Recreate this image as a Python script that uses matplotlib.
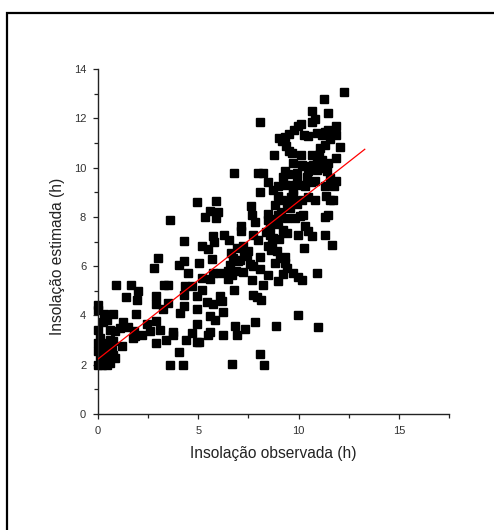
import matplotlib
matplotlib.use("Agg")
import matplotlib.pyplot as plt
from matplotlib.patches import Rectangle
from matplotlib.ticker import MultipleLocator

plt.rcParams['font.family'] = ['Liberation Sans', 'DejaVu Sans']

obs = [12.28, 11.28, 10.68, 11.48, 8.09, 10.81, 10.68, 11.89, 9.95, 10.12, 9.78, 11.48, 11.31,
       11.89, 9.50, 9.34, 10.27, 10.48, 10.90, 11.15, 11.56, 9.00, 9.15, 12.08, 11.08, 9.37,
       9.50, 8.79, 9.65, 10.10, 10.68, 11.89, 9.73, 10.15, 10.32, 10.90, 11.15, 11.45, 10.93,
       11.15, 10.48, 9.32, 9.48, 6.79, 7.99, 8.24, 9.90, 11.40, 11.56, 10.81, 11.89, 8.49,
       8.99, 9.32, 9.65, 9.90, 10.32, 8.74, 11.78, 11.31, 8.09, 9.73, 8.99, 9.15, 10.15, 10.48,
       10.81, 11.35, 11.56, 11.73, 8.82, 9.40, 9.57, 9.90, 4.92, 5.88, 5.58, 5.99, 5.32, 5.88,
       3.59, 7.61, 7.69, 7.82, 8.49, 8.49, 8.99, 9.40, 9.82, 10.07, 10.23, 11.31, 11.48, 8.95,
       9.24, 9.40, 7.11, 7.11, 6.28, 6.55, 7.75, 7.99, 8.57, 8.74, 9.98, 10.32, 10.48, 10.65,
       11.31, 5.75, 4.30, 5.78, 5.17, 5.50, 6.91, 7.24, 7.49, 8.49, 8.65, 8.90, 10.28, 11.69,
       6.61, 6.74, 7.41, 8.06, 5.66, 2.79, 2.99, 4.04, 4.30, 5.02, 6.58, 7.08, 7.75, 8.07,
       8.82, 9.07, 9.32, 9.32, 9.40, 4.50, 5.75, 6.08, 6.50, 6.66, 7.21, 8.49, 9.20, 9.73,
       9.98, 10.90, 10.15, 5.17, 5.58, 6.50, 7.69, 8.95, 8.24, 0.90, 1.63, 3.31, 3.50, 4.34,
       4.67, 2.01, 5.17, 6.79, 1.40, 1.96, 2.89, 2.89, 4.30, 4.92, 6.08, 6.20, 7.75, 7.94,
       8.15, 3.50, 5.42, 5.75, 4.30, 3.22, 4.92, 6.22, 4.09, 0.02, 0.02, 0.30, 0.76, 1.91,
       5.58, 5.83, 9.98, 0.43, 0.27, 1.26, 2.43, 2.89, 4.92, 6.83, 7.33, 7.82, 8.87, 10.98,
       0.02, 0.60, 0.85, 1.10, 1.81, 2.59, 3.09, 3.75, 3.75, 4.67, 5.58, 5.50, 6.21, 6.91,
       1.84, 2.18, 3.39, 4.39, 4.92, 5.05, 2.89, 1.18, 4.02, 8.07, 3.59, 4.22, 6.69, 8.29,
       0.02, 0.10, 0.02, 0.10, 0.02, 0.27, 0.43, 0.51, 0.35, 0.68, 0.76, 0.85, 0.60, 0.18,
       0.76, 0.60, 0.27, 0.43, 0.10, 1.75, 1.50, 8.60, 8.80, 9.10, 9.60, 9.20, 8.40, 9.70,
       10.40, 10.00, 10.70, 8.70, 9.00, 9.55, 10.60, 11.00, 11.30, 7.30, 7.00, 6.90, 7.60]
est = [13.07, 12.79, 12.30, 12.22, 11.84, 11.98, 11.84, 11.69, 11.69, 11.76, 11.54, 11.52, 11.43,
       11.34, 11.37, 11.25, 11.34, 11.27, 11.41, 11.34, 11.16, 11.20, 11.07, 10.84, 10.81, 10.87,
       10.66, 10.53, 10.60, 10.49, 10.53, 10.39, 10.19, 10.12, 10.05, 10.19, 10.32, 10.19, 9.89,
       9.99, 9.85, 9.85, 9.72, 9.78, 9.78, 9.78, 9.78, 9.85, 9.58, 9.45, 9.45, 9.40,
       9.24, 9.31, 9.31, 9.45, 9.24, 9.11, 9.24, 9.24, 9.01, 8.90, 8.84, 8.70, 8.70, 8.81,
       8.70, 8.84, 8.70, 8.67, 8.50, 8.57, 8.36, 8.54, 8.59, 8.66, 8.23, 8.20, 8.00, 7.96,
       7.89, 8.43, 8.09, 7.78, 8.13, 7.89, 8.09, 7.96, 7.96, 8.02, 8.09, 8.00, 8.09, 7.69,
       7.48, 7.35, 7.64, 7.42, 7.27, 7.08, 7.28, 7.08, 7.28, 7.14, 7.27, 7.62, 7.42, 7.21,
       7.27, 7.21, 7.04, 6.98, 6.83, 6.70, 6.74, 6.81, 6.60, 6.81, 6.67, 6.60, 6.73, 6.85,
       6.53, 6.33, 6.40, 6.37, 6.31, 5.93, 6.32, 6.04, 6.20, 6.11, 6.06, 6.24, 5.99, 5.88,
       6.13, 6.33, 6.37, 6.13, 5.93, 5.72, 5.72, 5.72, 5.79, 5.66, 5.76, 5.66, 5.70, 5.72,
       5.56, 5.72, 5.45, 5.52, 5.48, 5.48, 5.45, 5.38, 5.25, 5.25, 5.25, 5.25, 5.25, 5.21,
       5.21, 5.01, 5.05, 5.02, 4.75, 4.61, 4.80, 4.48, 4.84, 4.78, 4.80, 4.60, 4.84, 4.75,
       4.64, 4.51, 4.55, 4.48, 4.40, 4.26, 4.26, 4.14, 4.10, 4.44, 4.23, 4.07, 4.07, 4.07,
       3.96, 3.83, 4.02, 3.83, 3.72, 3.72, 3.67, 3.76, 3.67, 3.56, 3.46, 3.73, 3.56, 3.53,
       3.40, 3.42, 3.36, 3.49, 3.38, 3.38, 3.40, 3.33, 3.22, 3.29, 3.32, 3.19, 3.19, 3.22,
       3.15, 3.19, 3.02, 2.99, 2.94, 2.94, 2.88, 2.75, 2.50, 2.44, 1.98, 2.00, 2.03, 1.98,
       2.88, 2.75, 2.54, 2.34, 2.00, 2.14, 2.27, 2.54, 2.88, 2.61, 2.41, 2.27, 2.07, 2.00,
       2.95, 3.02, 2.61, 2.00, 3.08, 3.10, 3.55, 7.60, 7.90, 8.20, 8.80, 9.60, 7.40, 9.10,
       9.60, 9.30, 10.10, 6.90, 7.10, 8.60, 9.40, 10.50, 10.90, 6.50, 6.20, 5.80, 6.10]

# Regression line
fit_x = [0.0, 13.3]
fit_intercept = 2.23
fit_slope = 0.64

xticks = [0, 5, 10, 15]
yticks = [0, 2, 4, 6, 8, 10, 12, 14]

fig = plt.figure(figsize=(4.94, 5.30), dpi=100)
fig.patches.append(Rectangle((7/494, -0.05), 1.1, 1 - 13/530 + 0.05,
                             transform=fig.transFigure, fill=False,
                             edgecolor='black', linewidth=1.6, zorder=0))

ax = fig.add_axes([98/494, 1 - 414/530, (449 - 98)/494, (414 - 69)/530])
ax.plot(obs, est, linestyle='none', marker='s', markersize=5.3,
        color='black', markeredgecolor='black', zorder=2, clip_on=False)
fy = [fit_intercept + fit_slope * v for v in fit_x]
ax.plot(fit_x, fy, color='red', linewidth=0.9, zorder=3)

ax.set_xlim(0, 17.5)
ax.set_ylim(0, 14)
ax.set_xticks(xticks)
ax.set_yticks(yticks)
ax.xaxis.set_minor_locator(MultipleLocator(2.5))
ax.yaxis.set_minor_locator(MultipleLocator(1))
for s in ['top', 'right']:
    ax.spines[s].set_visible(False)
for s in ['left', 'bottom']:
    ax.spines[s].set_linewidth(1.0)
    ax.spines[s].set_color('#222222')
ax.tick_params(which='major', direction='out', length=3.5, width=0.9,
               labelsize=8, pad=5, colors='#222222', labelcolor='#333333')
ax.tick_params(which='minor', direction='out', length=3.0, width=0.9, colors='#222222')
ax.set_xlabel('Insolação observada (h)', fontsize=11.2, labelpad=7, color='#222222')
ax.set_ylabel('Insolação estimada (h)', fontsize=11.2, color='#222222')
ax.yaxis.set_label_coords(-0.093, 0.458)
for sp in ax.spines.values():
    sp.set_clip_on(False)

fig.savefig('out.png', dpi=100)
